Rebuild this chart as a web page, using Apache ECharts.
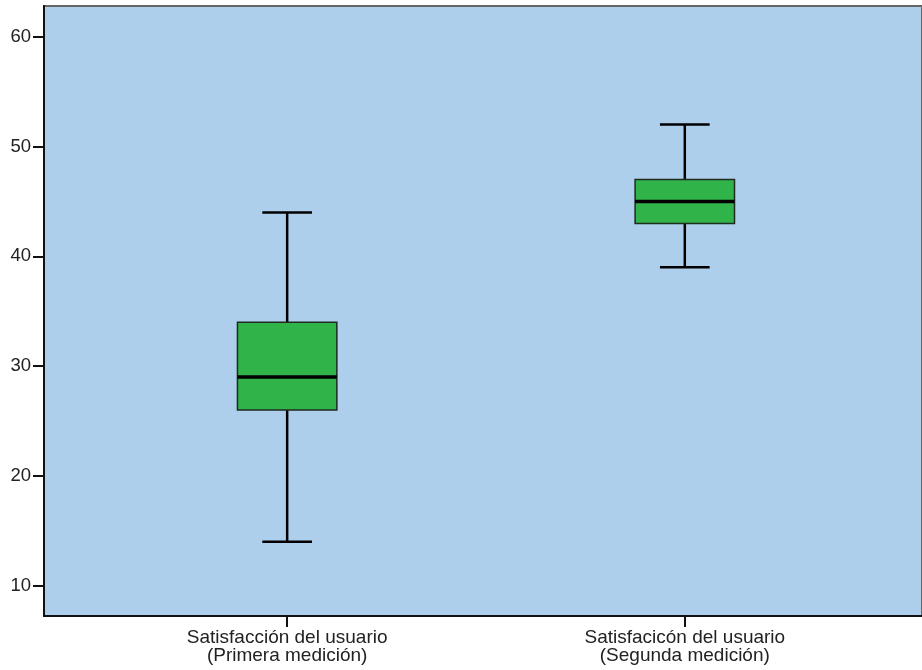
<!DOCTYPE html>
<html>
<head>
<meta charset="utf-8">
<script src="https://cdn.jsdelivr.net/npm/echarts@6/dist/echarts.min.js"></script>
<style>
  html, body { margin: 0; padding: 0; background: #fff; }
  #chart { width: 922px; height: 670px; }
</style>
</head>
<body>
<div id="chart"></div>
<script>
// categorias y estadisticos del boxplot
const categories = ['Satisfacción del usuario\n(Primera medición)', 'Satisfacicón del usuario\n(Segunda medición)']
const positions = [1, 2]
const lowWhisker = [14, 39]
const q1 = [26, 43]
const median = [29, 45]
const q3 = [34, 47]
const highWhisker = [44, 52]
const yTicks = [10, 20, 30, 40, 50, 60]

const data = positions.map((p, i) => [p, lowWhisker[i], q1[i], median[i], q3[i], highWhisker[i]])

const chart = echarts.init(document.getElementById('chart'))

const renderBox = (params, api) => {
  const x = api.value(0)
  const unit = api.size([1, 0])[0]
  const half = unit * 0.125
  const capHalf = half / 2
  const pLow = api.coord([x, api.value(1)])
  const pQ1 = api.coord([x, api.value(2)])
  const pMed = api.coord([x, api.value(3)])
  const pQ3 = api.coord([x, api.value(4)])
  const pHigh = api.coord([x, api.value(5)])
  const cx = pMed[0]
  const lineStyle = { stroke: '#000', lineWidth: 2.5 }
  return {
    type: 'group',
    children: [
      { type: 'line', shape: { x1: cx, y1: pQ3[1], x2: cx, y2: pHigh[1] }, style: lineStyle },
      { type: 'line', shape: { x1: cx, y1: pLow[1], x2: cx, y2: pQ1[1] }, style: lineStyle },
      { type: 'line', shape: { x1: cx - capHalf, y1: pHigh[1], x2: cx + capHalf, y2: pHigh[1] }, style: lineStyle },
      { type: 'line', shape: { x1: cx - capHalf, y1: pLow[1], x2: cx + capHalf, y2: pLow[1] }, style: lineStyle },
      {
        type: 'rect',
        shape: { x: cx - half, y: pQ3[1], width: half * 2, height: pQ1[1] - pQ3[1] },
        style: { fill: '#30b44a', stroke: '#1f2a22', lineWidth: 1.5 }
      },
      { type: 'line', shape: { x1: cx - half, y1: pMed[1], x2: cx + half, y2: pMed[1] }, style: { stroke: '#000', lineWidth: 3.5 } }
    ]
  }
}

// el area del grafico sigue mas alla del borde derecho (recortada)
chart.setOption({
  animation: false,
  backgroundColor: '#fff',
  textStyle: { fontFamily: 'Liberation Sans, Arial, sans-serif' },
  grid: {
    left: 44, top: 6, right: -3, bottom: 54,
    show: true,
    backgroundColor: '#aecfec',
    borderColor: '#666',
    borderWidth: 2
  },
  xAxis: {
    type: 'value',
    min: 0.3885,
    max: 2.5965,
    splitLine: { show: false },
    axisLine: { onZero: false, lineStyle: { color: '#111', width: 2 } },
    axisTick: { customValues: positions, length: 11, lineStyle: { color: '#111', width: 2 } },
    axisLabel: {
      customValues: positions,
      formatter: (v) => categories[Math.round(v) - 1],
      color: '#222',
      fontSize: 19,
      lineHeight: 18,
      margin: 13,
      fontFamily: 'Liberation Sans, Arial, sans-serif'
    }
  },
  yAxis: {
    type: 'value',
    min: 7.24,
    max: 62.8,
    splitLine: { show: false },
    axisLine: { show: true, onZero: false, lineStyle: { color: '#111', width: 2 } },
    axisTick: { show: true, customValues: yTicks, length: 11, lineStyle: { color: '#111', width: 2 } },
    axisLabel: {
      customValues: yTicks,
      color: '#222',
      fontSize: 18.5,
      margin: 13,
      fontFamily: 'Liberation Sans, Arial, sans-serif'
    }
  },
  series: [{
    type: 'custom',
    renderItem: renderBox,
    data: data,
    encode: { x: 0, y: [1, 2, 3, 4, 5] }
  }]
})
</script>
</body>
</html>
